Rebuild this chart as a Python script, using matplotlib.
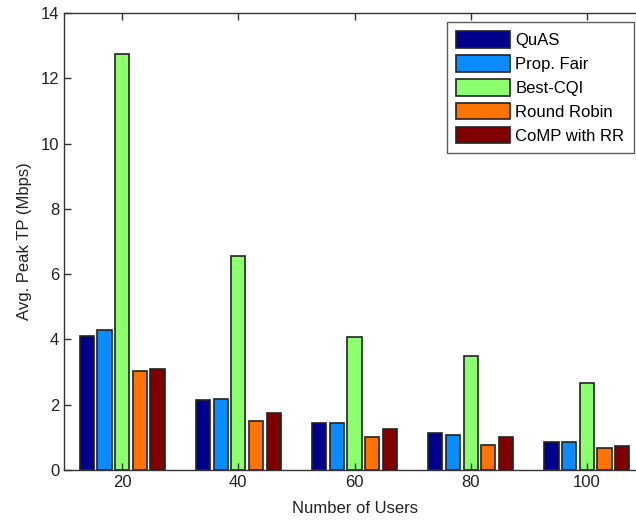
import matplotlib
matplotlib.use("Agg")
import matplotlib.pyplot as plt
import numpy as np

plt.rcParams['font.family'] = ['Liberation Sans', 'DejaVu Sans']

users = [20, 40, 60, 80, 100]
series_names = ["QuAS", "Prop. Fair", "Best-CQI", "Round Robin", "CoMP with RR"]
quas = [4.09, 2.14, 1.45, 1.13, 0.87]
prop_fair = [4.30, 2.17, 1.45, 1.08, 0.85]
best_cqi = [12.75, 6.55, 4.06, 3.49, 2.68]
round_robin = [3.03, 1.50, 1.01, 0.76, 0.68]
comp_rr = [3.08, 1.74, 1.25, 1.00, 0.72]
colors = ['#00008C', '#0A8CFF', '#8CFF6E', '#FF7300', '#800000']
yticks = [0, 2, 4, 6, 8, 10, 12, 14]

fig = plt.figure(figsize=(6.36, 5.21), dpi=100)
ax = fig.add_axes([64/636, 1-470/521, 581/636, 457/521])

all_series = [quas, prop_fair, best_cqi, round_robin, comp_rr]
x = np.array(users, dtype=float)
step = 3.04
width = 2.45
for i, (vals, name, c) in enumerate(zip(all_series, series_names, colors)):
    ax.bar(x + (i - 2) * step, vals, width=width, color=c, edgecolor='#222222',
           linewidth=1.2, label=name)

ax.set_xlim(10, 110)
ax.set_ylim(0, 14)
ax.set_xticks(users)
ax.set_yticks(yticks)
ax.tick_params(direction='in', length=5, width=1, labelsize=12, top=True, right=True,
               colors='#333333', labelcolor='#222222')
for s in ax.spines.values():
    s.set_color('#333333')
    s.set_linewidth(1)
ax.set_xlabel("Number of Users", fontsize=12, color='#222222', labelpad=8)
ax.set_ylabel("Avg. Peak TP (Mbps)", fontsize=12, color='#222222', labelpad=6)

leg = ax.legend(loc='upper left', bbox_to_anchor=((447-64)/581, 1-(22-13)/457),
                fontsize=12, frameon=True, fancybox=False, edgecolor='#333333',
                handlelength=3.2, handleheight=1.15, labelspacing=0.42,
                borderaxespad=0, borderpad=0.55, handletextpad=0.35)
leg.get_frame().set_linewidth(1)

fig.savefig("out.png", dpi=100)
